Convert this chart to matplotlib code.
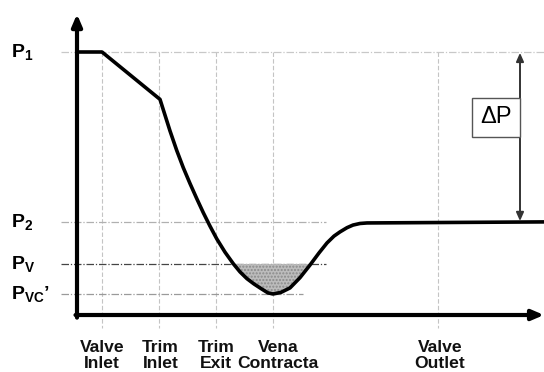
import numpy as np
import matplotlib
matplotlib.use("Agg")
import matplotlib.pyplot as plt
from matplotlib.patches import Rectangle
from matplotlib.transforms import offset_copy

plt.rcParams['font.family'] = ['Liberation Sans', 'DejaVu Sans']
plt.rcParams['mathtext.fontset'] = 'custom'
plt.rcParams['mathtext.rm'] = 'Liberation Sans'
plt.rcParams['mathtext.bf'] = 'Liberation Sans:bold'
plt.rcParams['mathtext.it'] = 'Liberation Sans:italic'

# ---- data ----
station_labels = ["Valve\nInlet", "Trim\nInlet", "Trim\nExit", "Vena\nContracta", "Valve\nOutlet"]
station_x = [25, 82, 139, 196, 361]          # distance along the valve
level_names = [r"$\mathbf{P}_{\mathbf{1}}$", r"$\mathbf{P}_{\mathbf{2}}$",
               r"$\mathbf{P}_{\mathbf{V}}$", r"$\mathbf{P}_{\mathbf{VC}}$’"]
P1, P2, PV, PVC = 100.0, 35.4, 19.4, 8.0
levels = [P1, P2, PV, PVC]
level_line_end = [467, 249, 249, 226]

curve_x = [0, 25, 83, 88, 93, 99.7, 106.3, 113, 119.7, 126.3, 133, 139.7, 148,
           156.3, 163, 170, 177, 183, 188, 191, 196, 204, 213, 223, 233, 242,
           250, 257, 263, 270, 276, 283, 290, 467]
curve_p = [100, 100, 82.0, 76.0, 70.0, 62.6, 56.0, 50.0, 44.3, 38.9, 33.8, 29.0,
           23.9, 19.5, 16.4, 13.8, 11.8, 10.3, 9.1, 8.4, 8.0, 8.6, 10.3, 14.2,
           19.0, 23.6, 27.4, 30.0, 31.6, 33.2, 34.2, 34.8, 35.0, 35.4]

x_end = 467
y_top = 114.4

fig = plt.figure(figsize=(5.44, 3.72), dpi=100)
ax = fig.add_axes([0, 0, 1, 1])
ax.set_xlim(-77, 467)
ax.set_ylim(-21.67, 119.77)
ax.axis('off')

cx = np.array(curve_x, float)
cp = np.array(curve_p, float)

# vertical guide lines
for sx in station_x:
    ax.plot([sx, sx], [P1, -5], color='#c4c4c4', lw=0.8, ls=(0, (4, 2)), zorder=1)

# horizontal level lines
hcolors = ['#c8c8c8', '#b0b0b0', '#444444', '#9a9a9a']
for lv, xe, c in zip(levels, level_line_end, hcolors):
    ax.plot([-16, xe], [lv, lv], color=c, lw=0.9, ls=(0, (6, 1.5, 1, 1.5)), zorder=1)

# cavitation shading
ax.fill_between(cx, cp, PV, where=cp < PV, interpolate=True,
                facecolor='#bcbcbc', edgecolor='#8a8a8a', hatch='.....', lw=0, zorder=2)

# pressure curve
ax.plot(cx, cp, color='black', lw=2.6, solid_joinstyle='round', solid_capstyle='butt', zorder=4)

# axes arrows
ax.annotate('', xy=(0, y_top), xytext=(0, -1.0),
            arrowprops=dict(arrowstyle='-|>,head_length=0.7,head_width=0.3', lw=3,
                            color='black', shrinkA=0, shrinkB=0), zorder=5)
ax.annotate('', xy=(x_end, 0), xytext=(-1.5, 0),
            arrowprops=dict(arrowstyle='-|>,head_length=0.7,head_width=0.3', lw=3,
                            color='black', shrinkA=0, shrinkB=0), zorder=5)

# level labels
for name, lv in zip(level_names, levels):
    ax.text(-66, lv, name, fontsize=14, fontweight='bold', ha='left', va='center')

# station labels (small horizontal nudges in points, as in the reference)
label_nudge = [0, 1, 0, 3.5, 1.5]
for sx, lab, dx in zip(station_x, station_labels, label_nudge):
    tr = offset_copy(ax.transData, fig=fig, x=dx, y=-2, units='points')
    ax.text(sx, -8.4, lab, fontsize=12.6, fontweight='bold', ha='center', va='top',
            linespacing=1.12, color='#111111', transform=tr)

# delta P arrow and box
ax.annotate('', xy=(443, P1 - 0.3), xytext=(443, P2 + 0.3),
            arrowprops=dict(arrowstyle='<|-|>,head_length=0.5,head_width=0.22', lw=1.4,
                            color='#333333', shrinkA=0, shrinkB=0), zorder=5)
ax.add_patch(Rectangle((395, 67.7), 48, 14.8, facecolor='white', edgecolor='#555555',
                       lw=1.0, zorder=6))
ax.text(419, 75.1, 'ΔP', fontsize=17, ha='center', va='center', zorder=7, color='black')

fig.savefig('out.png', dpi=100)
